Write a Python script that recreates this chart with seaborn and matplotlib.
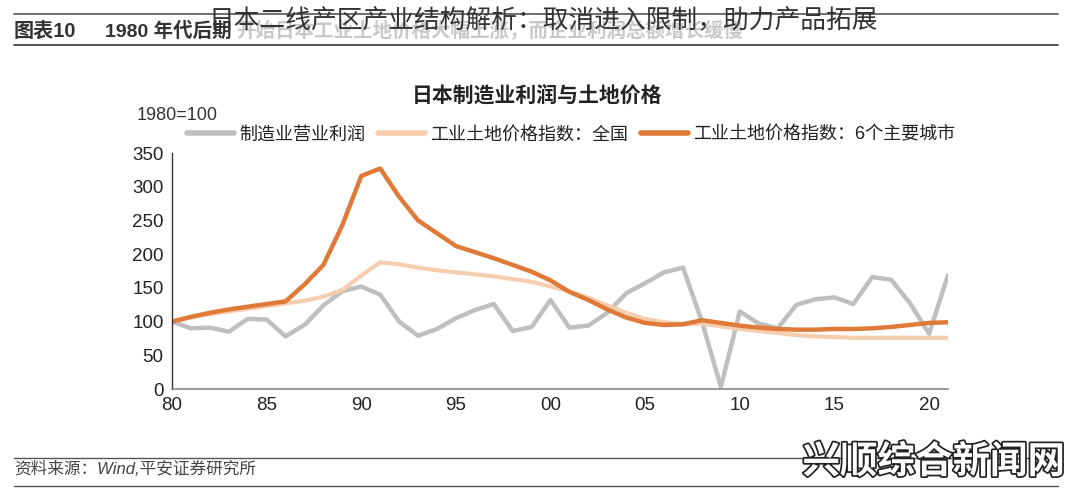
import matplotlib
matplotlib.use("Agg")
import matplotlib.pyplot as plt
import matplotlib.patheffects as pe
import seaborn as sns
import pandas as pd
import numpy as np

years = list(range(1980, 2022))
profit = [100, 90, 91, 85, 104, 103, 78, 95, 124, 145,
          152, 140, 100, 79, 89, 105, 117, 126, 86, 92,
          132, 91, 94, 113, 142, 157, 173, 180, 100, 3,
          115, 97, 90, 125, 133, 136, 126, 166, 162, 127,
          82, 169]
national = [100, 106, 111, 115, 119, 123, 127, 131, 137, 147,
            168, 188, 185, 180, 176, 173, 170, 167, 163, 159,
            152, 145, 135, 124, 113, 104, 99, 96, 97, 93,
            89, 86, 83, 80, 78, 77, 76, 76, 76, 76,
            76, 76]
cities = [100, 107, 113, 118, 122, 126, 130, 155, 184, 243,
          316, 327, 285, 250, 231, 212, 203, 194, 184, 174,
          161, 144, 132, 118, 106, 98, 95, 96, 102, 98,
          94, 91, 89, 88, 88, 89, 89, 90, 92, 95,
          98, 99]
series_names = ["制造业营业利润", "工业土地价格指数：全国", "工业土地价格指数：6个主要城市"]
series_colors = ["#BFBFBF", "#F6CDAE", "#DF7A38"]
series_widths = [3.2, 3.0, 3.2]
xtick_vals = [1980, 1985, 1990, 1995, 2000, 2005, 2010, 2015, 2020]
xtick_labels = ["80", "85", "90", "95", "00", "05", "10", "15", "20"]
ytick_vals = [0, 50, 100, 150, 200, 250, 300, 350]

df = pd.DataFrame({"year": years * 3,
                   "value": profit + national + cities,
                   "series": [series_names[0]] * len(years) + [series_names[1]] * len(years) + [series_names[2]] * len(years)})

sns.set_theme(style="white")
plt.rcParams['font.family'] = ['Liberation Sans', 'Noto Sans CJK SC', 'DejaVu Sans']

fig = plt.figure(figsize=(10.8, 4.93), dpi=100)
ax = fig.add_axes([172/1080, 1-389/493, (948-172)/1080, (389-153)/493])

for name, col, lw in zip(series_names, series_colors, series_widths):
    sub = df[df["series"] == name]
    sns.lineplot(data=sub, x="year", y="value", ax=ax, color=col, linewidth=lw,
                 label=name, legend=False)

ax.set_xlim(1980, 2021)
ax.set_ylim(0, 350)
ax.set_xticks(xtick_vals)
ax.set_xticklabels(xtick_labels)
ax.set_yticks(ytick_vals)
ax.set_xlabel("")
ax.set_ylabel("")
for s in ["top", "right"]:
    ax.spines[s].set_visible(False)
ax.spines["left"].set_color("#333333")
ax.spines["left"].set_linewidth(1.0)
ax.spines["bottom"].set_color("#888888")
ax.spines["bottom"].set_linewidth(1.2)
ax.tick_params(axis="both", direction="in", length=5, width=1, labelsize=13.5,
               colors="#222222", pad=6)
ax.tick_params(axis="x", color="#555555")

# legend
handles, labels = ax.get_legend_handles_labels()
leg = fig.legend(handles, labels, loc="center", bbox_to_anchor=(571/1080, 1-135/493),
                 ncol=3, frameon=False, fontsize=13, handlelength=2.6,
                 columnspacing=0.7, handletextpad=0.3, labelcolor="#222222")
for h in leg.legend_handles:
    h.set_linewidth(4)

fig.text(537/1080, 1-95/493, "日本制造业利润与土地价格", ha="center", va="center",
         fontsize=15, fontweight="bold", color="#222222")
fig.text(137/1080, 1-115/493, "1980=100", ha="left", va="center", fontsize=13,
         color="#333333")

# header
fig.add_artist(plt.Line2D([14/1080, 1058/1080], [1-14/493, 1-14/493], color="#555555", lw=1.2))
fig.add_artist(plt.Line2D([14/1080, 1058/1080], [1-45/493, 1-45/493], color="#333333", lw=1.2))
fig.text(14/1080, 1-31/493, "图表10", ha="left", va="center", fontsize=14.5,
         fontweight="bold", color="#333333")
fig.text(105/1080, 1-31/493, "1980 年代后期", ha="left", va="center", fontsize=14,
         fontweight="bold", color="#333333")
fig.text(236/1080, 1-31/493, "开始日本工业土地价格大幅上涨，而企业利润总额增长缓慢",
         ha="left", va="center", fontsize=14, fontweight="bold", color="#C8C8C8")
fig.text(543/1080, 1-21/493, "日本二线产区产业结构解析：取消进入限制，助力产品拓展",
         ha="center", va="center", fontsize=18.5, color="#333333")

# footer
fig.add_artist(plt.Line2D([14/1080, 1058/1080], [1-458/493, 1-458/493], color="#555555", lw=1.0))
fig.add_artist(plt.Line2D([14/1080, 1058/1080], [1-486/493, 1-486/493], color="#555555", lw=1.0))
fig.text(14/1080, 1-469/493, "资料来源：Wind,平安证券研究所", ha="left", va="center",
         fontsize=12, color="#444444", style="italic")
wm = fig.text(1065/1080, 1-463/493, "兴顺综合新闻网", ha="right", va="center",
              fontsize=27, color="white", fontweight="bold")
wm.set_path_effects([pe.withStroke(linewidth=2.5, foreground="#222222")])

fig.savefig("out.png", dpi=100)
